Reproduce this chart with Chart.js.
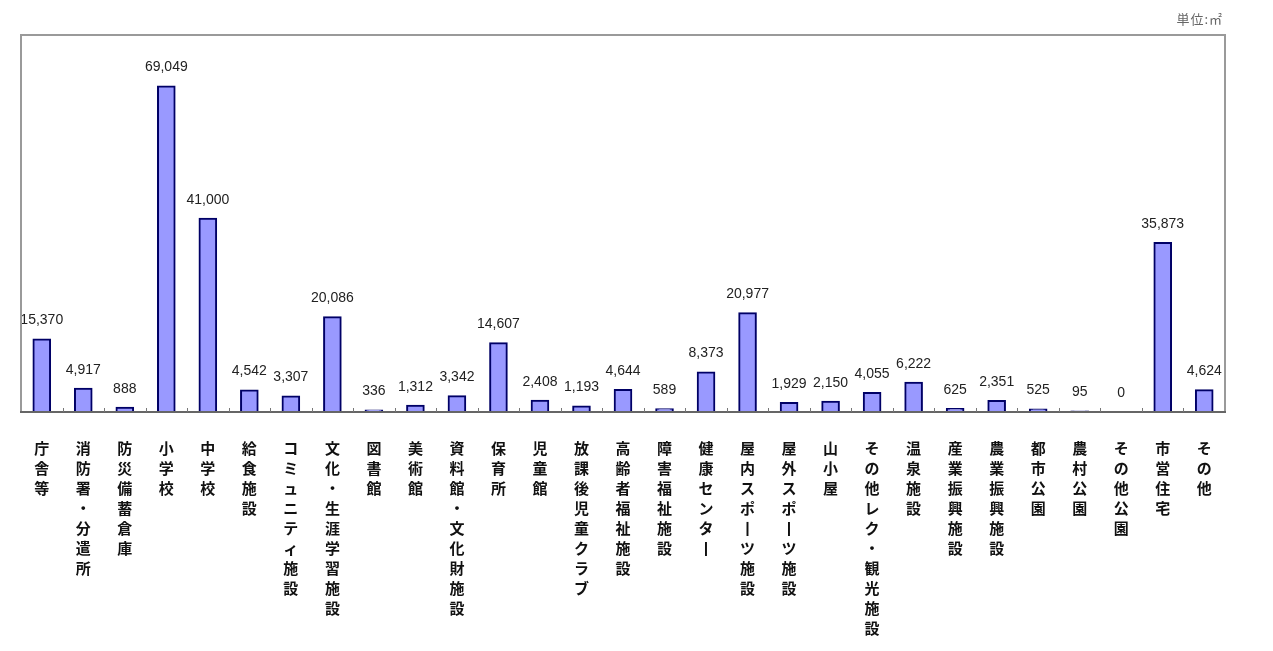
<!DOCTYPE html>
<html lang="ja">
<head>
<meta charset="utf-8">
<script src="https://cdn.jsdelivr.net/npm/chart.js@4/dist/chart.umd.min.js"></script>
<style>
  html, body { margin: 0; padding: 0; background: #ffffff; }
  #wrap { position: relative; width: 1273px; height: 651px; }
  #unit { position: absolute; right: 50px; top: 9px; font-family: "Noto Sans CJK JP", sans-serif; font-size: 13px; letter-spacing: 1px; color: #666; }
</style>
</head>
<body>
<div id="wrap">
  <canvas id="c" width="1273" height="651"></canvas>
  <div id="unit">単位:㎡</div>
</div>
<script>
const categories = [
  "庁舎等", "消防署・分遣所", "防災備蓄倉庫", "小学校", "中学校", "給食施設",
  "コミュニティ施設", "文化・生涯学習施設", "図書館", "美術館", "資料館・文化財施設",
  "保育所", "児童館", "放課後児童クラブ", "高齢者福祉施設", "障害福祉施設",
  "健康センター", "屋内スポーツ施設", "屋外スポーツ施設", "山小屋",
  "その他レク・観光施設", "温泉施設", "産業振興施設", "農業振興施設",
  "都市公園", "農村公園", "その他公園", "市営住宅", "その他"
];
const areaValues = [
  15370, 4917, 888, 69049, 41000, 4542,
  3307, 20086, 336, 1312, 3342,
  14607, 2408, 1193, 4644, 589,
  8373, 20977, 1929, 2150,
  4055, 6222, 625, 2351,
  525, 95, 0, 35873, 4624
];
const yMin = 0;
const yMax = 80000;

// vertical (tategaki) labels: one character per line
const verticalLabels = categories.map(s => Array.from(s.replace(/ー/g, "丨")));

const fmt = v => v.toLocaleString("en-US");

const decorPlugin = {
  id: "decor",
  afterDatasetsDraw(chart) {
    const ctx = chart.ctx;
    const meta = chart.getDatasetMeta(0);
    ctx.save();
    ctx.font = "14px 'Liberation Sans', Arial, sans-serif";
    ctx.fillStyle = "#222";
    ctx.textAlign = "center";
    ctx.textBaseline = "middle";
    meta.data.forEach((bar, i) => {
      ctx.fillText(fmt(areaValues[i]), bar.x, bar.y - 19);
    });
    ctx.restore();
  },
  afterDraw(chart) {
    const ctx = chart.ctx;
    const a = chart.chartArea;
    const xs = chart.scales.x;
    ctx.save();
    // frame
    ctx.strokeStyle = "#9a9a9a";
    ctx.lineWidth = 2;
    ctx.beginPath();
    ctx.moveTo(a.left, a.bottom);
    ctx.lineTo(a.left, a.top);
    ctx.lineTo(a.right, a.top);
    ctx.lineTo(a.right, a.bottom);
    ctx.stroke();
    // axis line
    ctx.strokeStyle = "#666";
    ctx.beginPath();
    ctx.moveTo(a.left - 1, a.bottom);
    ctx.lineTo(a.right + 1, a.bottom);
    ctx.stroke();
    // tick marks between categories
    ctx.lineWidth = 1;
    ctx.strokeStyle = "#777";
    for (let i = 1; i < categories.length; i++) {
      const x = Math.round((xs.getPixelForValue(i - 1) + xs.getPixelForValue(i)) / 2) + 0.5;
      ctx.beginPath();
      ctx.moveTo(x, a.bottom);
      ctx.lineTo(x, a.bottom - 4);
      ctx.stroke();
    }
    ctx.restore();
  }
};

new Chart(document.getElementById("c"), {
  type: "bar",
  data: {
    labels: verticalLabels,
    datasets: [{
      data: areaValues,
      backgroundColor: "#9999ff",
      borderColor: "#000066",
      borderWidth: 2,
      borderSkipped: false,
      inflateAmount: 1,
      barPercentage: 0.40,
      categoryPercentage: 1.0
    }]
  },
  options: {
    responsive: false,
    animation: false,
    devicePixelRatio: 1,
    layout: { padding: { left: 21, right: 48, top: 35, bottom: 0 } },
    plugins: {
      legend: { display: false },
      tooltip: { enabled: false },
      title: { display: false }
    },
    scales: {
      x: {
        offset: true,
        grid: { display: false },
        border: { display: false },
        ticks: {
          autoSkip: false,
          maxRotation: 0,
          minRotation: 0,
          padding: 18,
          color: "#111",
          font: { family: "'Noto Sans CJK JP', sans-serif", size: 15, weight: "bold", lineHeight: "20px" }
        },
        afterFit(scale) { scale.height = 239; }
      },
      y: {
        display: false,
        min: yMin,
        max: yMax
      }
    }
  },
  plugins: [decorPlugin]
});
</script>
</body>
</html>
